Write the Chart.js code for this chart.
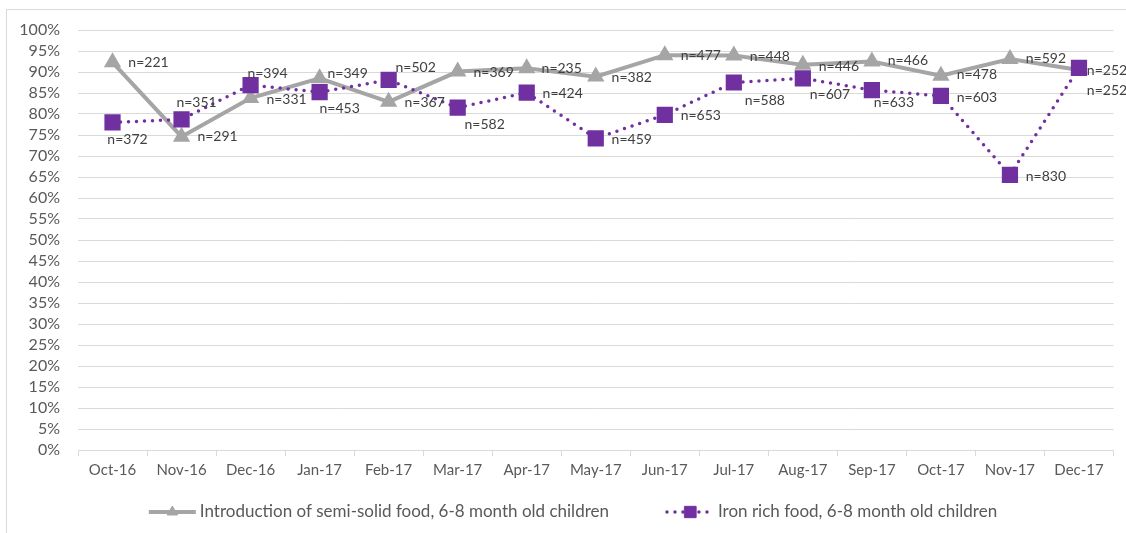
<!DOCTYPE html>
<html>
<head>
<meta charset="utf-8">
<script src="https://cdn.jsdelivr.net/npm/chart.js@4.4.1/dist/chart.umd.min.js"></script>
<style>
html, body { margin: 0; padding: 0; background: #fff; overflow: hidden; }
#wrap { position: relative; width: 1126px; height: 533px; }
#frame { position: absolute; left: 6px; top: 9px; width: 1140px; height: 540px; border: 1px solid #d9d9d9; pointer-events: none; }
</style>
</head>
<body>
<div id="wrap">
  <canvas id="myChart" width="1126" height="533"></canvas>
  <div id="frame"></div>
</div>
<script>
const months = ['Oct-16', 'Nov-16', 'Dec-16', 'Jan-17', 'Feb-17', 'Mar-17', 'Apr-17', 'May-17',
  'Jun-17', 'Jul-17', 'Aug-17', 'Sep-17', 'Oct-17', 'Nov-17', 'Dec-17'];

// % of children
const semiSolid = [92.3, 74.6, 83.8, 88.5, 82.9, 90.1, 90.9, 88.9, 94.0, 93.9, 91.7, 92.5, 89.1, 93.1, 90.5];
const ironRich = [78.0, 78.7, 86.9, 85.2, 88.1, 81.5, 85.1, 74.2, 79.8, 87.5, 88.5, 85.7, 84.3, 65.5, 91.0];

// sample sizes shown as labels
const semiSolidN = ['n=221', 'n=291', 'n=331', 'n=349', 'n=367', 'n=369', 'n=235', 'n=382',
  'n=477', 'n=448', 'n=446', 'n=466', 'n=478', 'n=592', 'n=252'];
const ironRichN = ['n=372', 'n=351', 'n=394', 'n=453', 'n=502', 'n=582', 'n=424', 'n=459',
  'n=653', 'n=588', 'n=607', 'n=633', 'n=603', 'n=830', 'n=252'];

// label shift from the point (px), like the hand-placed labels in the original
const semiShift = [[36, 0], [36, 0], [36, 1], [28, -5], [36, 1], [36, 1], [35, 0], [36, 1],
  [36, 0], [36, 1], [36, 2], [36, -1], [36, -1], [36, 0], [28, 1]];
const ironShift = [[15, 17], [15, -17], [17, -12], [20, 16], [27, -12], [27, 17], [36, 1], [36, 1],
  [36, 1], [31, 18], [27, 16], [22, 12], [36, 2], [36, 2], [28, 23]];

const GREY = '#a5a5a5';
const PURPLE = '#7030a0';
const TEXT = '#595959';
const FONT = 'Lato, "Open Sans", sans-serif';

const pointLabels = {
  id: 'pointLabels',
  afterDatasetsDraw(chart) {
    const ctx = chart.ctx;
    ctx.save();
    ctx.font = '14px ' + FONT;
    ctx.fillStyle = '#404040';
    ctx.textAlign = 'center';
    ctx.textBaseline = 'middle';
    chart.data.datasets.forEach((ds, i) => {
      const meta = chart.getDatasetMeta(i);
      meta.data.forEach((pt, j) => {
        const s = ds.shift[j];
        ctx.fillText(ds.nLabels[j], pt.x + s[0], pt.y + s[1]);
      });
    });
    ctx.restore();
  }
};

// legend with a line sample and the marker in the middle, as in Excel
const lineLegend = {
  id: 'lineLegend',
  afterDraw(chart) {
    const ctx = chart.ctx;
    const y = 512;
    ctx.save();
    ctx.font = '17px ' + FONT;
    ctx.textBaseline = 'middle';
    const items = chart.data.datasets.map(ds => ({ ds, w: 51 + ctx.measureText(ds.label).width }));
    const gap = 58;
    const total = items.reduce((a, it) => a + it.w, 0) + gap * (items.length - 1);
    let x = chart.width / 2 + 10 - total / 2;
    items.forEach(({ ds, w }) => {
      ctx.strokeStyle = ds.borderColor;
      ctx.lineWidth = ds.borderWidth;
      ctx.lineCap = ds.borderCapStyle || 'butt';
      ctx.setLineDash(ds.borderDash || []);
      ctx.beginPath();
      ctx.moveTo(x, y);
      ctx.lineTo(x + 47, y);
      ctx.stroke();
      ctx.setLineDash([]);
      ctx.fillStyle = ds.pointBackgroundColor;
      ctx.strokeStyle = ds.pointBorderColor;
      ctx.lineWidth = 1;
      Chart.helpers.drawPoint(ctx, {
        pointStyle: ds.pointStyle, radius: ds.pointStyle === 'rect' ? 8 : 6,
        borderWidth: 1, rotation: 0
      }, x + 23.5, y);
      ctx.fillStyle = TEXT;
      ctx.fillText(ds.label, x + 51, y);
      x += w + gap;
    });
    ctx.restore();
  }
};

const ctx = document.getElementById('myChart').getContext('2d');
new Chart(ctx, {
  type: 'line',
  data: {
    labels: months,
    datasets: [{
      label: 'Introduction of semi-solid food, 6-8 month old children',
      data: semiSolid,
      nLabels: semiSolidN,
      shift: semiShift,
      borderColor: GREY,
      backgroundColor: GREY,
      borderWidth: 4,
      pointStyle: 'triangle',
      pointRadius: 6,
      pointBackgroundColor: GREY,
      pointBorderColor: GREY,
      tension: 0,
      order: 2
    }, {
      label: 'Iron rich food, 6-8 month old children',
      data: ironRich,
      nLabels: ironRichN,
      shift: ironShift,
      borderColor: PURPLE,
      backgroundColor: PURPLE,
      borderWidth: 3.5,
      borderDash: [0, 8],
      borderCapStyle: 'round',
      pointStyle: 'rect',
      pointRadius: 9,
      pointBackgroundColor: PURPLE,
      pointBorderColor: PURPLE,
      tension: 0,
      order: 1
    }]
  },
  options: {
    responsive: false,
    animation: false,
    layout: { padding: { top: 30, right: 9, left: 0, bottom: 0 } },
    plugins: {
      legend: { display: false },
      tooltip: { enabled: false }
    },
    scales: {
      x: {
        offset: true,
        grid: { offset: true, drawOnChartArea: false, tickLength: 6, color: '#d9d9d9' },
        border: { color: '#d9d9d9' },
        ticks: { color: TEXT, font: { family: FONT, size: 15 }, padding: 5, maxRotation: 0, autoSkip: false },
        afterFit(s) { s.height = 83; }
      },
      y: {
        min: 0,
        max: 100,
        ticks: {
          stepSize: 5, autoSkip: false, callback: v => v + '%',
          color: TEXT, font: { family: FONT, size: 16 }, padding: 18
        },
        grid: { color: '#d9d9d9', drawTicks: false },
        border: { display: false },
        afterFit(s) { s.width = 78; }
      }
    }
  },
  plugins: [pointLabels, lineLegend]
});
</script>
</body>
</html>
